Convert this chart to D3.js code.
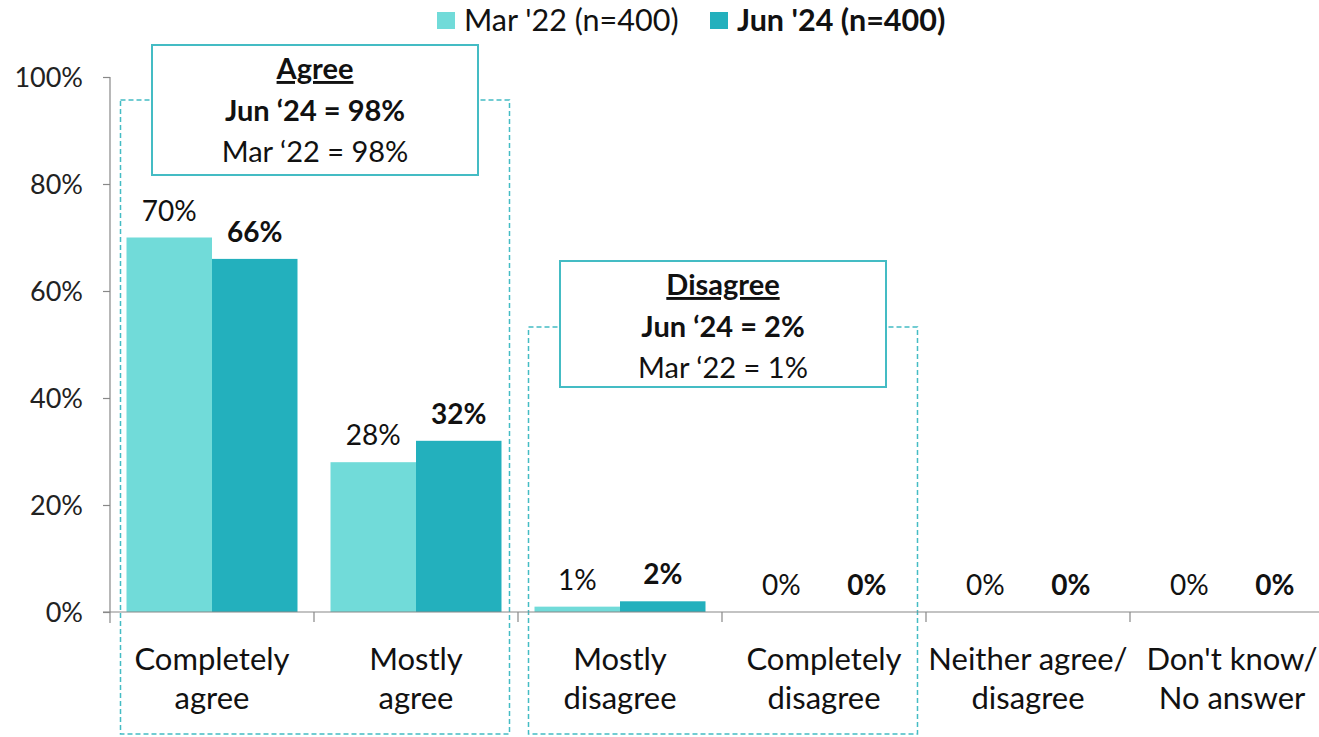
<!DOCTYPE html>
<html><head><meta charset="utf-8">
<script src="https://cdn.jsdelivr.net/npm/d3@7"></script>
<style>body{margin:0;background:#fff;} svg{display:block;font-family:Lato, "Open Sans", sans-serif;}</style>
</head><body>
<svg id="chart" width="1319" height="737"></svg>
<script>
const categories = [["Completely","agree"],["Mostly","agree"],["Mostly","disagree"],["Completely","disagree"],["Neither agree/","disagree"],["Don't know/","No answer"]];
const seriesNames = ["Mar '22 (n=400)", "Jun '24 (n=400)"];
const mar22 = [70, 28, 1, 0, 0, 0];
const jun24 = [66, 32, 2, 0, 0, 0];
const yTicks = [0, 20, 40, 60, 80, 100];
const groups = [
  {title:"Agree", lines:["Jun \u201824 = 98%","Mar \u201822 = 98%"], from:0, to:1},
  {title:"Disagree", lines:["Jun \u201824 = 2%","Mar \u201822 = 1%"], from:2, to:3}
];
// layout constants (not data)
const bracketTop = [100, 327];
const boxTop = [45, 261];
const boxH = [130, 126];
const colors = ["#71dbd9", "#23b0bd"];
const lineCol = "#44bcc4";

const svg = d3.select("#chart");
const keys = categories.map((c,i)=>i);
const x0 = d3.scaleBand().domain(keys).range([110, 1334]).paddingInner(0.1618).paddingOuter(0.0809);
const x1 = d3.scaleBand().domain([0,1]).range([0, x0.bandwidth()]);
const y = d3.scaleLinear().domain([0,100]).range([612, 77]);

// dashed brackets
groups.forEach((g,k)=>{
  const left = x0(g.from) - 6, right = x0(g.to) + x0.bandwidth() + 8;
  svg.append("rect").attr("x", left).attr("y", bracketTop[k]).attr("width", right-left).attr("height", 734 - bracketTop[k])
    .attr("fill","none").attr("stroke", lineCol).attr("stroke-width",1.5).attr("stroke-dasharray","5,3");
});

// y axis
const yAxis = d3.axisLeft(y).tickValues(yTicks).tickFormat(d=>d+"%").tickSize(7).tickPadding(20);
const ga = svg.append("g").attr("transform","translate(110,0)").call(yAxis);
ga.select(".domain").remove();
ga.append("line").attr("x1",0).attr("x2",0).attr("y1",77).attr("y2",623).attr("stroke","#888").attr("stroke-width",1.2);
ga.selectAll(".tick line").attr("stroke","#888").attr("stroke-width",1.2);
ga.selectAll(".tick text").attr("font-size",27).attr("fill","#222").attr("font-family","Lato, sans-serif").attr("dy","0.35em");

// bars
const series = [mar22, jun24];
series.forEach((vals, s)=>{
  svg.append("g").selectAll("rect").data(vals).join("rect")
    .attr("x",(d,i)=>x0(i)+x1(s)).attr("width",x1.bandwidth())
    .attr("y",d=>y(d)).attr("height",d=>y(0)-y(d)).attr("fill",colors[s]);
  svg.append("g").selectAll("text").data(vals).join("text")
    .attr("x",(d,i)=>x0(i)+x1(s)+x1.bandwidth()/2).attr("y",d=>y(d)-17)
    .attr("text-anchor","middle").attr("font-size",28).attr("font-weight", s===1?"bold":"normal").attr("fill","#111")
    .text(d=>d+"%");
});

// x axis
svg.append("line").attr("x1",103).attr("x2",1334).attr("y1",612).attr("y2",612).attr("stroke","#888").attr("stroke-width",1.2);
const bounds = d3.range(1, categories.length).map(i=>x0(i) - x0.step()*x0.paddingOuter());
svg.append("g").selectAll("line").data(bounds).join("line")
  .attr("x1",d=>d).attr("x2",d=>d).attr("y1",612).attr("y2",622).attr("stroke","#888").attr("stroke-width",1.2);
const cl = svg.append("g").selectAll("text").data(categories).join("text")
  .attr("x",(d,i)=>x0(i)+x0.bandwidth()/2).attr("y",670).attr("text-anchor","middle").attr("font-size",31).attr("fill","#111");
cl.each(function(d){
  const t = d3.select(this);
  d.forEach((ln,j)=>t.append("tspan").attr("x",t.attr("x")).attr("dy", j===0?0:39).text(ln));
});

// solid boxes
groups.forEach((g,k)=>{
  const cx = (x0(g.from) - 6 + x0(g.to) + x0.bandwidth() + 8)/2;
  const top = boxTop[k];
  const bw = 326, bh = boxH[k];
  svg.append("rect").attr("x",cx-bw/2).attr("y",top).attr("width",bw).attr("height",bh)
    .attr("fill","#fff").attr("stroke",lineCol).attr("stroke-width",2);
  svg.append("text").attr("x",cx).attr("y",top+34).attr("text-anchor","middle").attr("font-size",29).attr("font-weight","bold")
    .attr("text-decoration","underline").attr("fill","#111").text(g.title);
  svg.append("text").attr("x",cx).attr("y",top+76).attr("text-anchor","middle").attr("font-size",29).attr("font-weight","bold")
    .attr("fill","#111").text(g.lines[0]);
  svg.append("text").attr("x",cx).attr("y",top+117).attr("text-anchor","middle").attr("font-size",29)
    .attr("fill","#111").text(g.lines[1]);
});

// legend
const leg = svg.append("g");
const legX = [437, 710];
seriesNames.forEach((n,i)=>{
  leg.append("rect").attr("x",legX[i]).attr("y",12).attr("width",18).attr("height",17).attr("fill",colors[i]);
  leg.append("text").attr("x",legX[i]+27).attr("y",31).attr("font-size",30.5).attr("font-weight", i===1?"bold":"normal").attr("fill","#111").text(n);
});
</script>
</body></html>
